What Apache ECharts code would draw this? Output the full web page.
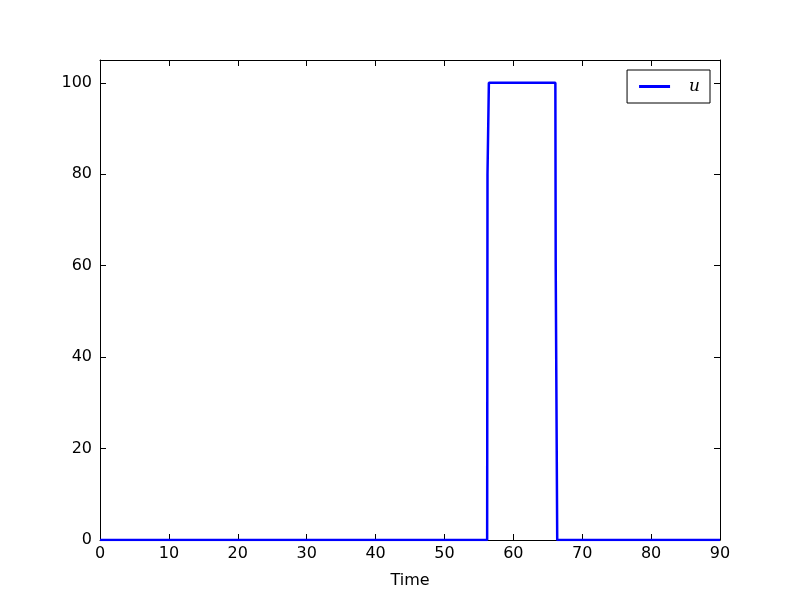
<!DOCTYPE html>
<html><head><meta charset="utf-8">
<script src="https://cdn.jsdelivr.net/npm/echarts@6/dist/echarts.min.js"></script>
<style>html,body{margin:0;padding:0;background:#fff}#c{width:800px;height:600px}</style>
</head><body><div id="c"></div>
<script>
const seriesName = 'u';
const timeValues = [0, 56.2, 56.25, 56.45, 66.1, 66.15, 66.37, 90];
const uValues = [0, 0, 80, 100, 100, 60, 0, 0];
const xTicks = [0, 10, 20, 30, 40, 50, 60, 70, 80, 90];
const yTicks = [0, 20, 40, 60, 80, 100];

const data = timeValues.map((t, i) => [t, uValues[i]]);
const font = 'DejaVu Sans';
const chart = echarts.init(document.getElementById('c'), null, {renderer: 'canvas'});
const axisCommon = {
  axisLine: {show: true, onZero: false, lineStyle: {color: '#000', width: 1}},
  axisTick: {show: true, inside: true, length: 6, lineStyle: {color: '#000'}},
  splitLine: {show: false}
};
chart.setOption({
  animation: false,
  grid: {left: 100, right: 80, top: 60, bottom: 60, containLabel: false},
  legend: {
    data: [{name: seriesName, icon: 'rect'}],
    right: 90, top: 70,
    itemWidth: 31, itemHeight: 3,
    borderColor: '#000', borderWidth: 1, borderRadius: 0,
    padding: [8, 10, 8, 12],
    textStyle: {fontFamily: 'DejaVu Serif', fontStyle: 'italic', fontSize: 17, color: '#000', padding: [0, 0, 0, 14]}
  },
  xAxis: [
    Object.assign({type: 'value', min: 0, max: 90, interval: 10, position: 'bottom',
      name: 'Time', nameLocation: 'middle', nameGap: 33,
      nameTextStyle: {fontFamily: font, fontSize: 16, color: '#000'},
      axisLabel: {fontFamily: font, fontSize: 16, color: '#000', margin: 6,
        formatter: v => xTicks.includes(v) ? String(v) : ''}}, axisCommon),
    Object.assign({type: 'value', min: 0, max: 90, interval: 10, position: 'top',
      axisLabel: {show: false}}, axisCommon)
  ],
  yAxis: [
    Object.assign({type: 'value', min: 0, max: 105, interval: 20, position: 'left',
      axisLabel: {fontFamily: font, fontSize: 16, color: '#000', margin: 8,
        formatter: v => yTicks.includes(v) ? String(v) : ''}}, axisCommon),
    Object.assign({type: 'value', min: 0, max: 105, interval: 20, position: 'right',
      axisLabel: {show: false}}, axisCommon)
  ],
  series: [{
    name: seriesName, type: 'line', data: data, showSymbol: false, symbol: 'none',
    lineStyle: {color: '#0000ff', width: 2.5}, itemStyle: {color: '#0000ff'}
  }]
});
</script></body></html>
